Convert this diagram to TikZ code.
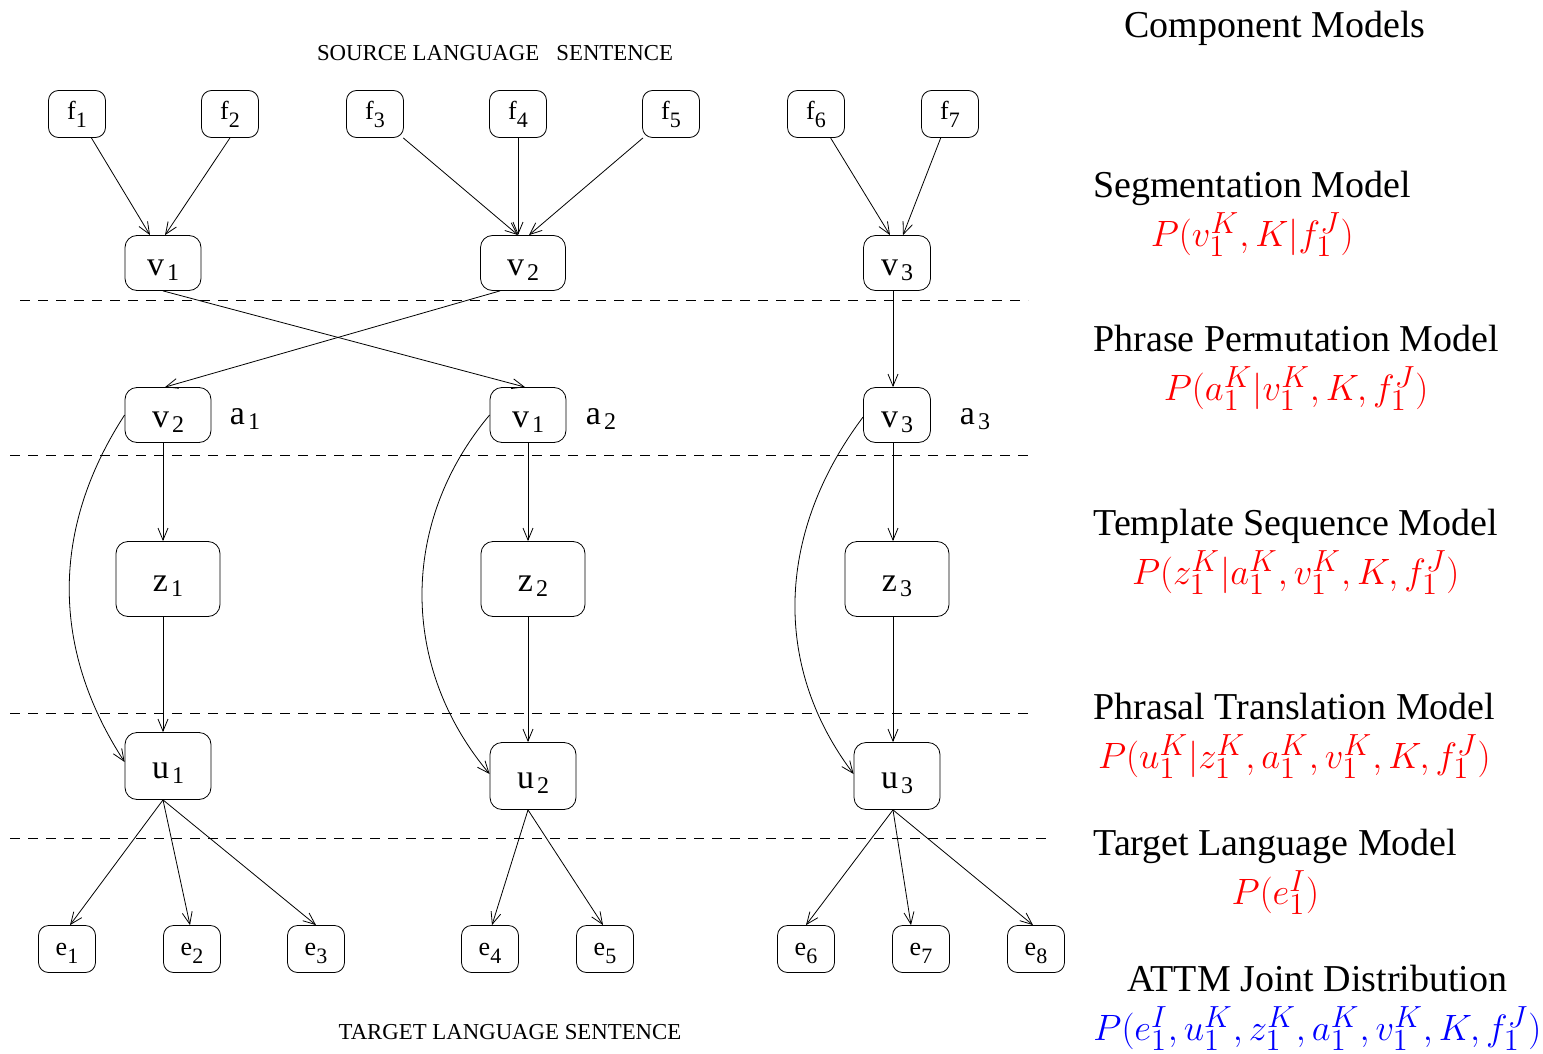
\documentclass[tikz,border=0pt]{standalone}
\usepackage{graphicx}
\usepackage{fontspec}
\setmainfont{Liberation Serif}
\usetikzlibrary{arrows.meta}

% word and phrase labels with a lowered index
\newcommand{\wsub}[2]{#1\raisebox{-4pt}{\fontsize{11}{12}\selectfont #2}}
\newcommand{\psub}[2]{#1\kern1.5pt\raisebox{-2.5pt}{\fontsize{12}{14}\selectfont #2}}
% model probability
\newcommand{\prob}[2]{\textcolor{#1}{\scalebox{1.06}{$#2$}}}

\begin{document}
\begin{tikzpicture}[
	x=0.5pt, y=-0.5pt,
	word/.style={draw, rounded corners=5pt, minimum width=28.5pt, minimum height=23.5pt, inner sep=0pt, text height=6pt, text depth=0pt, font=\fontsize{13}{15}\selectfont},
	phrase/.style={draw, rounded corners=6pt, minimum width=43pt, minimum height=27.5pt, inner sep=0pt, text height=12pt, text depth=0pt, font=\fontsize{17}{19}\selectfont},
	tmpl/.style={phrase, minimum width=52pt, minimum height=37.5pt},
	trans/.style={phrase, minimum height=33.5pt},
	alabel/.style={inner sep=0pt, text height=12pt, text depth=0pt, font=\fontsize{17}{19}\selectfont},
	layer/.style={line width=0.4pt, dash pattern=on 5pt off 4pt},
	arrow/.style={-{Straight Barb[length=6pt,width=5pt]}, line width=0.4pt},
	model/.style={align=center, anchor=west, inner sep=0pt, font=\fontsize{19}{24.5}\selectfont},
	caption/.style={font=\fontsize{11.4}{13}\selectfont}
]
\useasboundingbox (0,0) rectangle (1543,1054);

% source words
\node[word] (f1) at (77,114) {\wsub{f}{1}};
\node[word] (f2) at (230,114) {\wsub{f}{2}};
\node[word] (f3) at (375,114) {\wsub{f}{3}};
\node[word] (f4) at (518,114) {\wsub{f}{4}};
\node[word] (f5) at (671,114) {\wsub{f}{5}};
\node[word] (f6) at (816,114) {\wsub{f}{6}};
\node[word] (f7) at (950,114) {\wsub{f}{7}};

% source phrases
\node[phrase, minimum width=38pt] (v1) at (163,263) {\psub{v}{1}};
\node[phrase, minimum width=42.5pt] (v2) at (523,263) {\psub{v}{2}};
\node[phrase, minimum width=33.5pt] (v3) at (897,263) {\psub{v}{3}};

% permuted phrases
\node[phrase] (pv2) at (168,415) {\psub{v}{2}};
\node[phrase, minimum width=38pt] (pv1) at (528,415) {\psub{v}{1}};
\node[phrase, minimum width=33.5pt] (pv3) at (897,415) {\psub{v}{3}};
\node[alabel] (a1) at (245,412) {\psub{a}{1}};
\node[alabel] (a2) at (601,412) {\psub{a}{2}};
\node[alabel] (a3) at (975,412) {\psub{a}{3}};

% templates
\node[tmpl] (z1) at (168,579) {\psub{z}{1}};
\node[tmpl] (z2) at (533,579) {\psub{z}{2}};
\node[tmpl] (z3) at (897,579) {\psub{z}{3}};

% target phrases
\node[trans] (u1) at (168,766) {\psub{u}{1}};
\node[trans] (u2) at (533,776) {\psub{u}{2}};
\node[trans] (u3) at (897,776) {\psub{u}{3}};

% target words
\node[word] (e1) at (67,949) {\wsub{e}{1}};
\node[word] (e2) at (192,949) {\wsub{e}{2}};
\node[word] (e3) at (316,949) {\wsub{e}{3}};
\node[word] (e4) at (490,949) {\wsub{e}{4}};
\node[word] (e5) at (605,949) {\wsub{e}{5}};
\node[word] (e6) at (806,949) {\wsub{e}{6}};
\node[word] (e7) at (921,949) {\wsub{e}{7}};
\node[word] (e8) at (1036,949) {\wsub{e}{8}};

% model layers
\draw[layer] (20,300) -- (1028,300);
\draw[layer] (10,455) -- (1028,455);
\draw[layer] (10,713) -- (1028,713);
\draw[layer] (10,838) -- (1048,838);

% segmentation
\draw[arrow] (f1) -- ([xshift=-6.5pt]v1.north);
\draw[arrow] (f2.south) -- ([xshift=1pt]v1.north);
\draw[arrow] (f3) -- ([xshift=-2.5pt]v2.north);
\draw[arrow] (f4) -- ([xshift=-2.5pt]v2.north);
\draw[arrow] (f5) -- ([xshift=3pt]v2.north);
\draw[arrow] (f6) -- ([xshift=-3.5pt]v3.north);
\draw[arrow] (f7) -- ([xshift=3pt]v3.north);

% permutation
\draw[arrow] (v1.south) -- ([xshift=-1.5pt]pv1.north);
\draw[arrow] ([xshift=-11.5pt]v2.south) -- ([xshift=-1.5pt]pv2.north);
\draw[arrow] ([xshift=-2pt]v3.south) -- ([xshift=-2pt]pv3.north);

% template sequence
\draw[arrow] ([xshift=-2.5pt]pv2.south) -- ([xshift=-2.5pt]z1.north);
\draw[arrow] (pv1.south) -- ([xshift=-2.5pt]z2.north);
\draw[arrow] ([xshift=-2pt]pv3.south) -- ([xshift=-2pt]z3.north);

% phrasal translation
\draw[arrow] ([xshift=-2.5pt]z1.south) -- ([xshift=-2.5pt]u1.north);
\draw[arrow] ([xshift=-2.5pt]z2.south) -- ([xshift=-2.5pt]u2.north);
\draw[arrow] ([xshift=-2pt]z3.south) -- ([xshift=-2pt]u3.north);
\draw[arrow] (pv2.west) to[out=237, in=123] ([yshift=2pt]u1.west);
\draw[arrow] (pv1.west) to[out=230, in=130] ([yshift=1pt]u2.west);
\draw[arrow] ([yshift=-1pt]pv3.west) to[out=233, in=127] ([yshift=1pt]u3.west);

% target words
\draw[arrow] ([xshift=-2.5pt]u1.south) -- ([xshift=1.5pt]e1.north);
\draw[arrow] ([xshift=-2.5pt]u1.south) -- ([xshift=-1pt]e2.north);
\draw[arrow] ([xshift=-2.5pt]u1.south) -- (e3.north);
\draw[arrow] ([xshift=-2.5pt]u2.south) -- ([xshift=1pt]e4.north);
\draw[arrow] ([xshift=-2.5pt]u2.south) -- ([xshift=-1pt]e5.north);
\draw[arrow] ([xshift=-2pt]u3.south) -- (e6.north);
\draw[arrow] ([xshift=-2pt]u3.south) -- ([xshift=-5pt]e7.north);
\draw[arrow] ([xshift=-2pt]u3.south) -- ([xshift=-1.5pt]e8.north);

% sentences
\node[caption] (src) at (495,53) {SOURCE LANGUAGE\ \ \ SENTENCE};
\node[caption] (tgt) at (510,1032) {TARGET LANGUAGE SENTENCE};

% component models
\node[font=\fontsize{19}{24.5}\selectfont] (comp) at (1275,28) {Component Models};
\node[model] (seg) at (1093,214) {Segmentation Model\\\prob{red}{P(v_1^K,K|f_1^J)}};
\node[model] (perm) at (1093,368) {Phrase Permutation Model\\\prob{red}{P(a_1^K|v_1^K,K,f_1^J)}};
\node[model] (seq) at (1093,552) {Template Sequence Model\\\prob{red}{P(z_1^K|a_1^K,v_1^K,K,f_1^J)}};
\node[model] (phr) at (1093,736) {Phrasal Translation Model\\\prob{red}{P(u_1^K|z_1^K,a_1^K,v_1^K,K,f_1^J)}};
\node[model] (lm) at (1093,872) {Target Language Model\\\prob{red}{P(e_1^I)}};
\node[model] (joint) at (1093,1008) {ATTM Joint Distribution\\\prob{blue}{P(e_1^I,u_1^K,z_1^K,a_1^K,v_1^K,K,f_1^J)}};
\end{tikzpicture}
\end{document}
